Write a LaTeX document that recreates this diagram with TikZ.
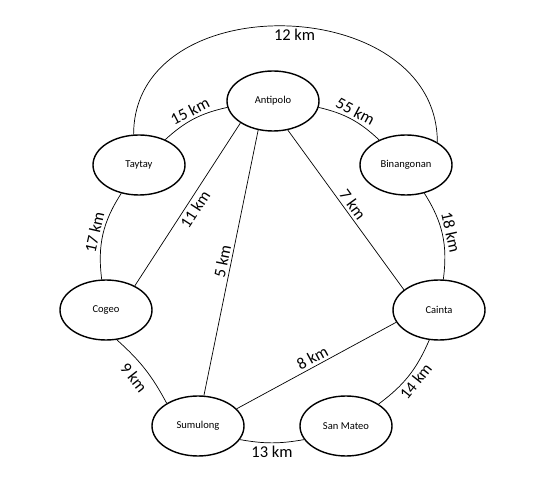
\documentclass[tikz,border=0pt]{standalone}
\usepackage{fontspec}
\setmainfont{Carlito}
\usepackage{tikz}
\usetikzlibrary{positioning}
\usetikzlibrary{arrows,shapes}

\begin{document}
\begin{tikzpicture}
  [town/.style={ellipse,draw=black,thick,minimum width=1.84cm,minimum height=1.2cm,inner sep=0pt,font=\fontsize{6}{7}\selectfont},
  road/.style={black,thin},
  dist/.style={font=\fontsize{9.4}{11}\selectfont,inner sep=1.5pt}]
  \useasboundingbox (0,0) rectangle (10.8,9.9);
  \node[town] (antipolo) at (5.46,7.88) {Antipolo};
  \node[town] (taytay) at (2.78,6.6) {Taytay};
  \node[town] (binangonan) at (8.12,6.6) {Binangonan};
  \node[town] (cogeo) at (2.12,3.7) {Cogeo};
  \node[town] (cainta) at (8.78,3.7) {Cainta};
  \node[town] (sumulong) at (3.96,1.38) {Sumulong};
  \node[town] (sanmateo) at (6.92,1.38) {San Mateo};
  
  \draw [road] (taytay.100) .. controls +(0,3) and +(0,3) .. (binangonan.36) node [pos=0.52,below,dist] {12 km};
  \draw [road] (taytay.44) to[bend left=15] node [midway,sloped,above,dist] {15 km} (antipolo.188);
  \draw [road] (antipolo.352) to[bend left=15] node [midway,sloped,above,dist] {55 km} (binangonan.137);
  
  \draw [road] (cogeo.98) to[bend left=20] node [midway,sloped,above,dist] {17 km} (taytay.238);
  \draw [road] (cogeo.40) -- (antipolo.214) node [midway,sloped,below,dist] {11 km};
  \draw [road] (sumulong.79) -- (antipolo.243) node [midway,sloped,above,dist] {5 km};
  \draw [road] (antipolo.297) -- (cainta.150) node [midway,sloped,above,dist] {7 km};
  \draw [road] (binangonan.303) to[bend left=20] node [midway,sloped,above,dist] {18 km} (cainta.82);
  
  \draw [road] (cogeo.290) to[bend left=10] node [midway,sloped,below=3pt,dist] {9 km} (sumulong.144);
  \draw [road] (sumulong.24) -- (cainta.196) node [midway,sloped,above,dist] {8 km};
  \draw [road] (sanmateo.34) to[bend right=15] node [midway,sloped,below,dist] {14 km} (cainta.252);
  \draw [road] (sumulong.342) to[bend right=10] node [midway,below,dist] {13 km} (sanmateo.198);
  
\end{tikzpicture}
\end{document}
